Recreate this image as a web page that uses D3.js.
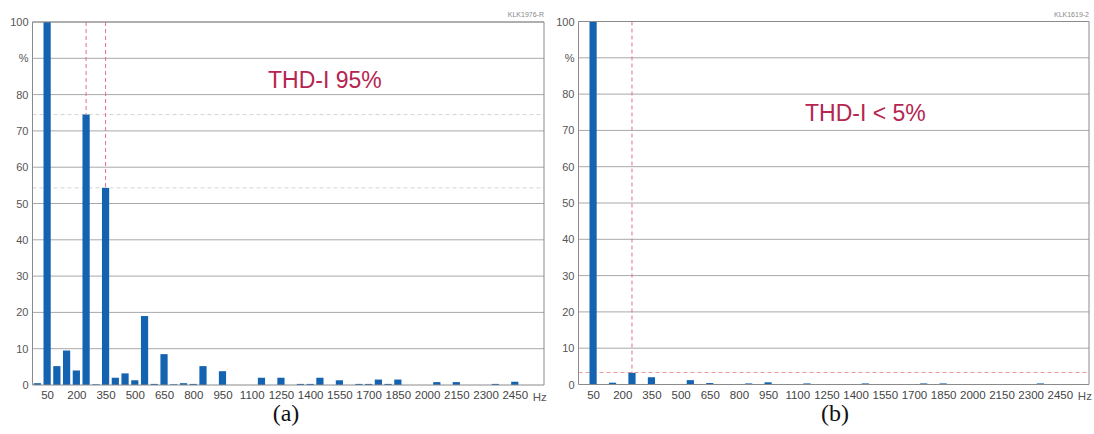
<!DOCTYPE html>
<html>
<head>
<meta charset="utf-8">
<script src="https://cdn.jsdelivr.net/npm/d3@7"></script>
<style>
  html, body { margin: 0; padding: 0; background: #fff; }
  svg { display: block; }
</style>
</head>
<body>
<svg id="chart" width="1094" height="434"></svg>
<script>
// ---- data ----
const freqA   = [0, 50, 100, 150, 200, 250, 300, 350, 400, 450, 500, 550, 600, 650, 700, 750, 800, 850, 950,
                 1150, 1250, 1350, 1400, 1450, 1550, 1650, 1700, 1750, 1800, 1850, 2050, 2150, 2350, 2450];
const valuesA = [0.5, 100, 5.2, 9.5, 4, 74.5, 0.2, 54.3, 2, 3.2, 1.3, 19, 0.3, 8.5, 0.2, 0.5, 0.3, 5.2, 3.8,
                 2, 2, 0.3, 0.3, 2, 1.3, 0.3, 0.3, 1.5, 0.3, 1.5, 0.8, 0.8, 0.3, 0.9];
const freqB   = [50, 150, 250, 350, 550, 650, 850, 950, 1150, 1450, 1750, 1850, 2350];
const valuesB = [100, 0.5, 3.2, 2.0, 1.2, 0.4, 0.3, 0.6, 0.3, 0.3, 0.3, 0.3, 0.3];
const xTicks  = [50, 200, 350, 500, 650, 800, 950, 1100, 1250, 1400, 1550, 1700, 1850, 2000, 2150, 2300, 2450];
const yTicks  = [0, 10, 20, 30, 40, 50, 60, 70, 80, 90, 100];
const markersA = [ {f: 250, v: 74.5}, {f: 350, v: 54.3} ];
const markersB = [ {f: 250, v: 3.2} ];
const hLinesA = [74.5, 54.3];
const hLinesB = [3.3];

const svg = d3.select("#chart");

function drawPanel(opt) {
  const g = svg.append("g");
  const x = d3.scaleLinear().domain([-25, 2600]).range([opt.left, opt.right]);
  const y = d3.scaleLinear().domain([0, 100]).range([opt.bottom, opt.top]);
  const bw = (x(50) - x(0)) * 0.74;

  // grid
  g.selectAll("line.grid").data(yTicks.filter(d => d > 0)).join("line")
    .attr("x1", opt.left).attr("x2", opt.right)
    .attr("y1", d => y(d)).attr("y2", d => y(d))
    .attr("stroke", "#a8a8a8").attr("stroke-width", 1);

  // horizontal dashed reference lines
  g.selectAll("line.href").data(opt.hLines).join("line")
    .attr("x1", opt.left).attr("x2", opt.right)
    .attr("y1", d => y(d)).attr("y2", d => y(d))
    .attr("stroke", opt.hColor).attr("stroke-width", 1)
    .attr("stroke-dasharray", "4,3");

  // vertical dashed markers
  g.selectAll("line.vref").data(opt.markers).join("line")
    .attr("x1", d => x(d.f)).attr("x2", d => x(d.f))
    .attr("y1", opt.top).attr("y2", d => y(d.v))
    .attr("stroke", "#e0708a").attr("stroke-width", 1)
    .attr("stroke-dasharray", "4,3");

  // bars
  g.selectAll("rect.bar").data(opt.freq.map((f, i) => ({f, v: opt.values[i]}))).join("rect")
    .attr("x", d => x(d.f) - bw / 2)
    .attr("width", bw)
    .attr("y", d => y(d.v))
    .attr("height", d => Math.max(0, y(0) - y(d.v)))
    .attr("fill", "#1463b0");

  // frame (left, top, right) + bottom axis line
  g.append("path")
    .attr("d", `M${opt.left},${opt.bottom}V${opt.top}H${opt.right}V${opt.bottom}`)
    .attr("fill", "none").attr("stroke", "#8a8a8a").attr("stroke-width", 1);
  g.append("line")
    .attr("x1", opt.left).attr("x2", opt.right)
    .attr("y1", y(0)).attr("y2", y(0))
    .attr("stroke", "#8a8a8a");

  // y tick labels
  const yAxis = d3.axisLeft(y).tickValues(yTicks).tickSize(0).tickPadding(4)
    .tickFormat(d => d === 90 ? "%" : d);
  const ya = g.append("g").attr("transform", `translate(${opt.left},0)`).call(yAxis);
  ya.select(".domain").remove();
  ya.selectAll("text").attr("font-family", "Liberation Sans, Arial, sans-serif")
    .attr("font-size", 11).attr("fill", "#555");

  // x tick labels
  const xAxis = d3.axisBottom(x).tickValues(xTicks).tickSize(0).tickPadding(6)
    .tickFormat(d => d);
  const xa = g.append("g").attr("transform", `translate(0,${y(0)})`).call(xAxis);
  xa.select(".domain").remove();
  xa.selectAll("text").attr("font-family", "Liberation Sans, Arial, sans-serif")
    .attr("font-size", 11.5).attr("fill", "#444");
  g.append("text").attr("x", x(2450) + 18).attr("y", y(0) + 15.5)
    .attr("font-family", "Liberation Sans, Arial, sans-serif")
    .attr("font-size", 11.5).attr("fill", "#555").text("Hz");

  // THD annotation
  g.append("text").attr("x", opt.thdX).attr("y", opt.thdY)
    .attr("font-family", "Liberation Sans, Arial, sans-serif")
    .attr("font-size", 23).attr("fill", "#b5254f").text(opt.thd);

  // code label
  g.append("text").attr("x", opt.right).attr("y", opt.top - 5)
    .attr("text-anchor", "end")
    .attr("font-family", "Liberation Sans, Arial, sans-serif")
    .attr("font-size", 7).attr("fill", "#888").text(opt.code);

  // caption
  g.append("text").attr("x", opt.capX).attr("y", 421)
    .attr("text-anchor", "middle")
    .attr("font-family", "Liberation Serif, Times New Roman, serif")
    .attr("font-size", 24).attr("fill", "#111").text(opt.caption);
}

drawPanel({left: 32.5, right: 544, top: 22, bottom: 385,
  freq: freqA, values: valuesA, markers: markersA, hLines: hLinesA, hColor: "#d4d4d4",
  thd: "THD-I 95%", thdX: 268, thdY: 88, code: "KLK1976-R", caption: "(a)", capX: 286});
drawPanel({left: 578.5, right: 1089, top: 21.5, bottom: 384.5,
  freq: freqB, values: valuesB, markers: markersB, hLines: hLinesB, hColor: "#e89a9a",
  thd: "THD-I < 5%", thdX: 805, thdY: 121, code: "KLK1619-2", caption: "(b)", capX: 835});
</script>
</body>
</html>
